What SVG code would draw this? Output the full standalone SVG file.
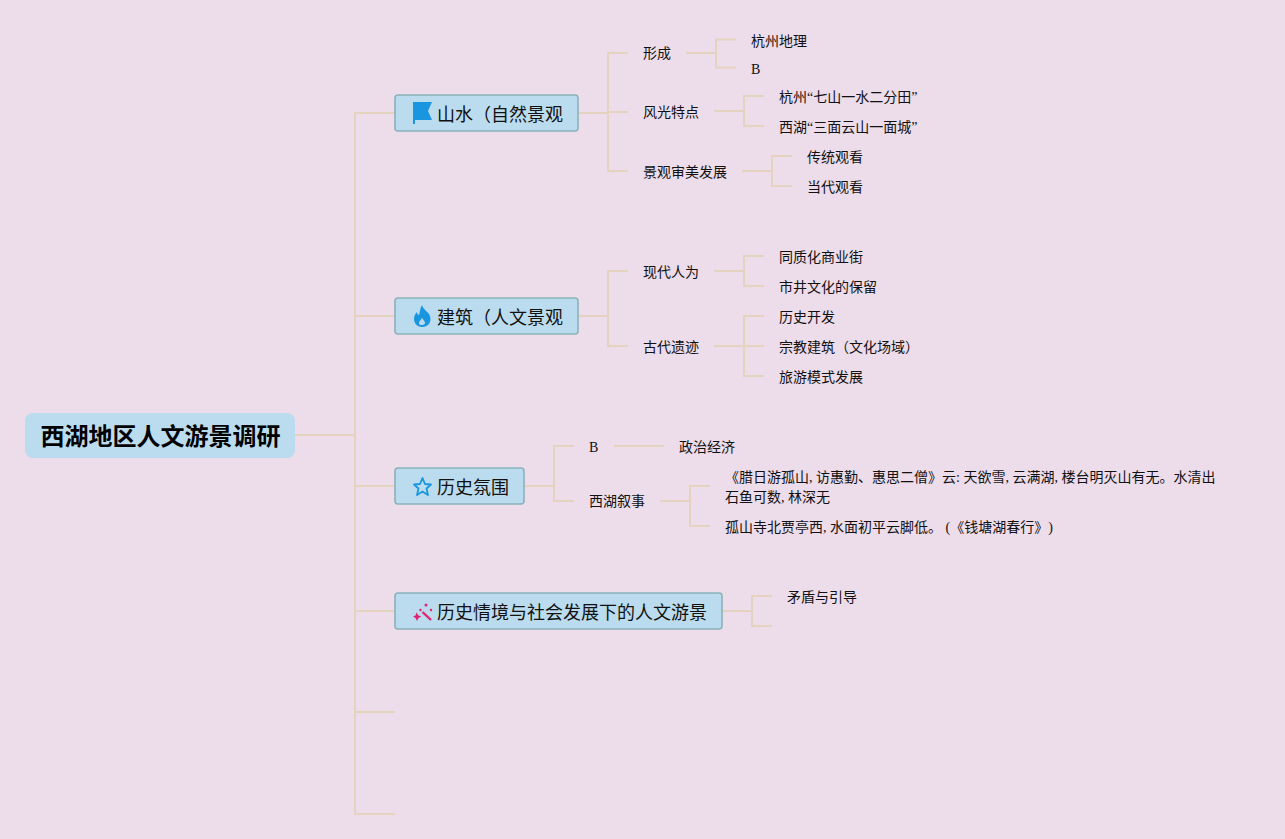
<svg xmlns="http://www.w3.org/2000/svg" width="1285" height="839" viewBox="0 0 1285 839">
<style>
text{font-family:"Liberation Serif","Noto Sans CJK SC",serif;fill:#111;font-size:14px;text-spacing-trim:space-all}
.t{font-size:18px;font-family:"Liberation Sans","Noto Sans CJK SC",sans-serif}
.r{font-size:24px;font-weight:bold;font-family:"Liberation Sans","Noto Sans CJK SC",sans-serif;fill:#000}
.b{fill:#bbdcee;stroke:#8ab2ba;stroke-width:1.600}
#connectors path{fill:none;stroke:#e4d4bf;stroke-width:2}
</style>
<rect width="1285" height="839" fill="#eddcea"/>
<g id="connectors">
<path d="M295 435H355M395 113H355V814H395M355 316H395M355 486H395M355 611H395M355 712H395"/>
<path d="M578 113H608M628 53H608V171H628M608 112H628"/>
<path d="M686 53H716M736 39.500H716V67.500H736"/>
<path d="M714 111H744M764 96H744V126H764"/>
<path d="M742 171H772M792 156H772V186H792"/>
<path d="M578 316H608M628 271H608V346H628"/>
<path d="M714 271H744M764 256H744V286H764"/>
<path d="M714 346H764M764 316H744V376H764"/>
<path d="M524 486H554M574 446H554V501H574"/>
<path d="M614 446H664"/>
<path d="M660 501H690M710 486H690V526H710"/>
<path d="M722 611H752M772 596H752V626H772"/>
</g>
<g id="root"><rect x="25" y="413" width="270" height="45" rx="8" fill="#bbdcee"/><text class="r" x="40.500" y="445">西湖地区人文游景调研</text></g>
<g id="topic1"><rect class="b" x="395" y="95" width="183" height="36" rx="3"/>
<path d="M413 102H432L428 111L432 120H415V124H413Z" fill="#1a96e0"/><text class="t" x="437" y="121">山水（自然景观</text></g>
<g id="topic2"><rect class="b" x="395" y="298" width="183" height="36" rx="3"/>
<path d="M422 305C423 309 427 311 429 314C431 317 431 321 429 324C427 326 425 327 422 327C418 327 414 324 414 319C414 316 415 314 417 312C417 314 418 315 419 315C420 312 420 308 422 305ZM422 318C421 320 419 321 419 323C419 325 421 325 422 325C424 325 425 324 425 323C425 321 423 320 422 318Z" fill="#1a96e0" fill-rule="evenodd"/><text class="t" x="437" y="324">建筑（人文景观</text></g>
<g id="topic3"><rect class="b" x="395" y="468" width="129" height="36" rx="3"/>
<path d="M422.500 478L425 484L431 484.500L426.500 488.500L428 495L422.500 491.500L417 495L418.500 488.500L414 484.500L420 484Z" fill="none" stroke="#1a96e0" stroke-width="1.800" stroke-linejoin="round"/><text class="t" x="437" y="494">历史氛围</text></g>
<g id="topic4"><rect class="b" x="395" y="593" width="327" height="36" rx="3"/>
<path d="M422.500 612L431 620" fill="none" stroke="#e0246e" stroke-width="2.400"/><path d="M416.500 612.500L418.500 615.500L421.500 616.500L418.500 618L417 621L415.500 618L413 616.500L415.500 615.500Z" fill="#e0246e"/><circle cx="426" cy="605" r="1.500" fill="#e0246e"/><circle cx="431" cy="610" r="1.200" fill="#e0246e"/><circle cx="420.500" cy="610" r="1.200" fill="#e0246e"/><text class="t" x="437" y="619">历史情境与社会发展下的人文游景</text></g>
<g id="n1"><text x="643" y="58">形成</text></g>
<g id="n2"><text x="751" y="46">杭州地理</text></g>
<g id="n3"><text x="751" y="74">B</text></g>
<g id="n4"><text x="643" y="117">风光特点</text></g>
<g id="n5"><text x="779" y="102">杭州“七山一水二分田”</text></g>
<g id="n6"><text x="779" y="132">西湖“三面云山一面城”</text></g>
<g id="n7"><text x="643" y="177">景观审美发展</text></g>
<g id="n8"><text x="807" y="162">传统观看</text></g>
<g id="n9"><text x="807" y="192">当代观看</text></g>
<g id="n10"><text x="643" y="277">现代人为</text></g>
<g id="n11"><text x="779" y="262">同质化商业街</text></g>
<g id="n12"><text x="779" y="292">市井文化的保留</text></g>
<g id="n13"><text x="643" y="352">古代遗迹</text></g>
<g id="n14"><text x="779" y="322">历史开发</text></g>
<g id="n15"><text x="779" y="352">宗教建筑（文化场域）</text></g>
<g id="n16"><text x="779" y="382">旅游模式发展</text></g>
<g id="n17"><text x="589" y="452">B</text></g>
<g id="n18"><text x="679" y="452">政治经济</text></g>
<g id="n19"><text x="589" y="506">西湖叙事</text></g>
<g id="n20"><text x="725" y="482">《腊日游孤山, 访惠勤、惠思二僧》云: 天欲雪, 云满湖, 楼台明灭山有无。水清出</text><text x="725" y="502">石鱼可数, 林深无</text></g>
<g id="n21"><text x="725" y="532">孤山寺北贾亭西, 水面初平云脚低。 (《钱塘湖春行》)</text></g>
<g id="n22"><text x="787" y="602">矛盾与引导</text></g>
</svg>
